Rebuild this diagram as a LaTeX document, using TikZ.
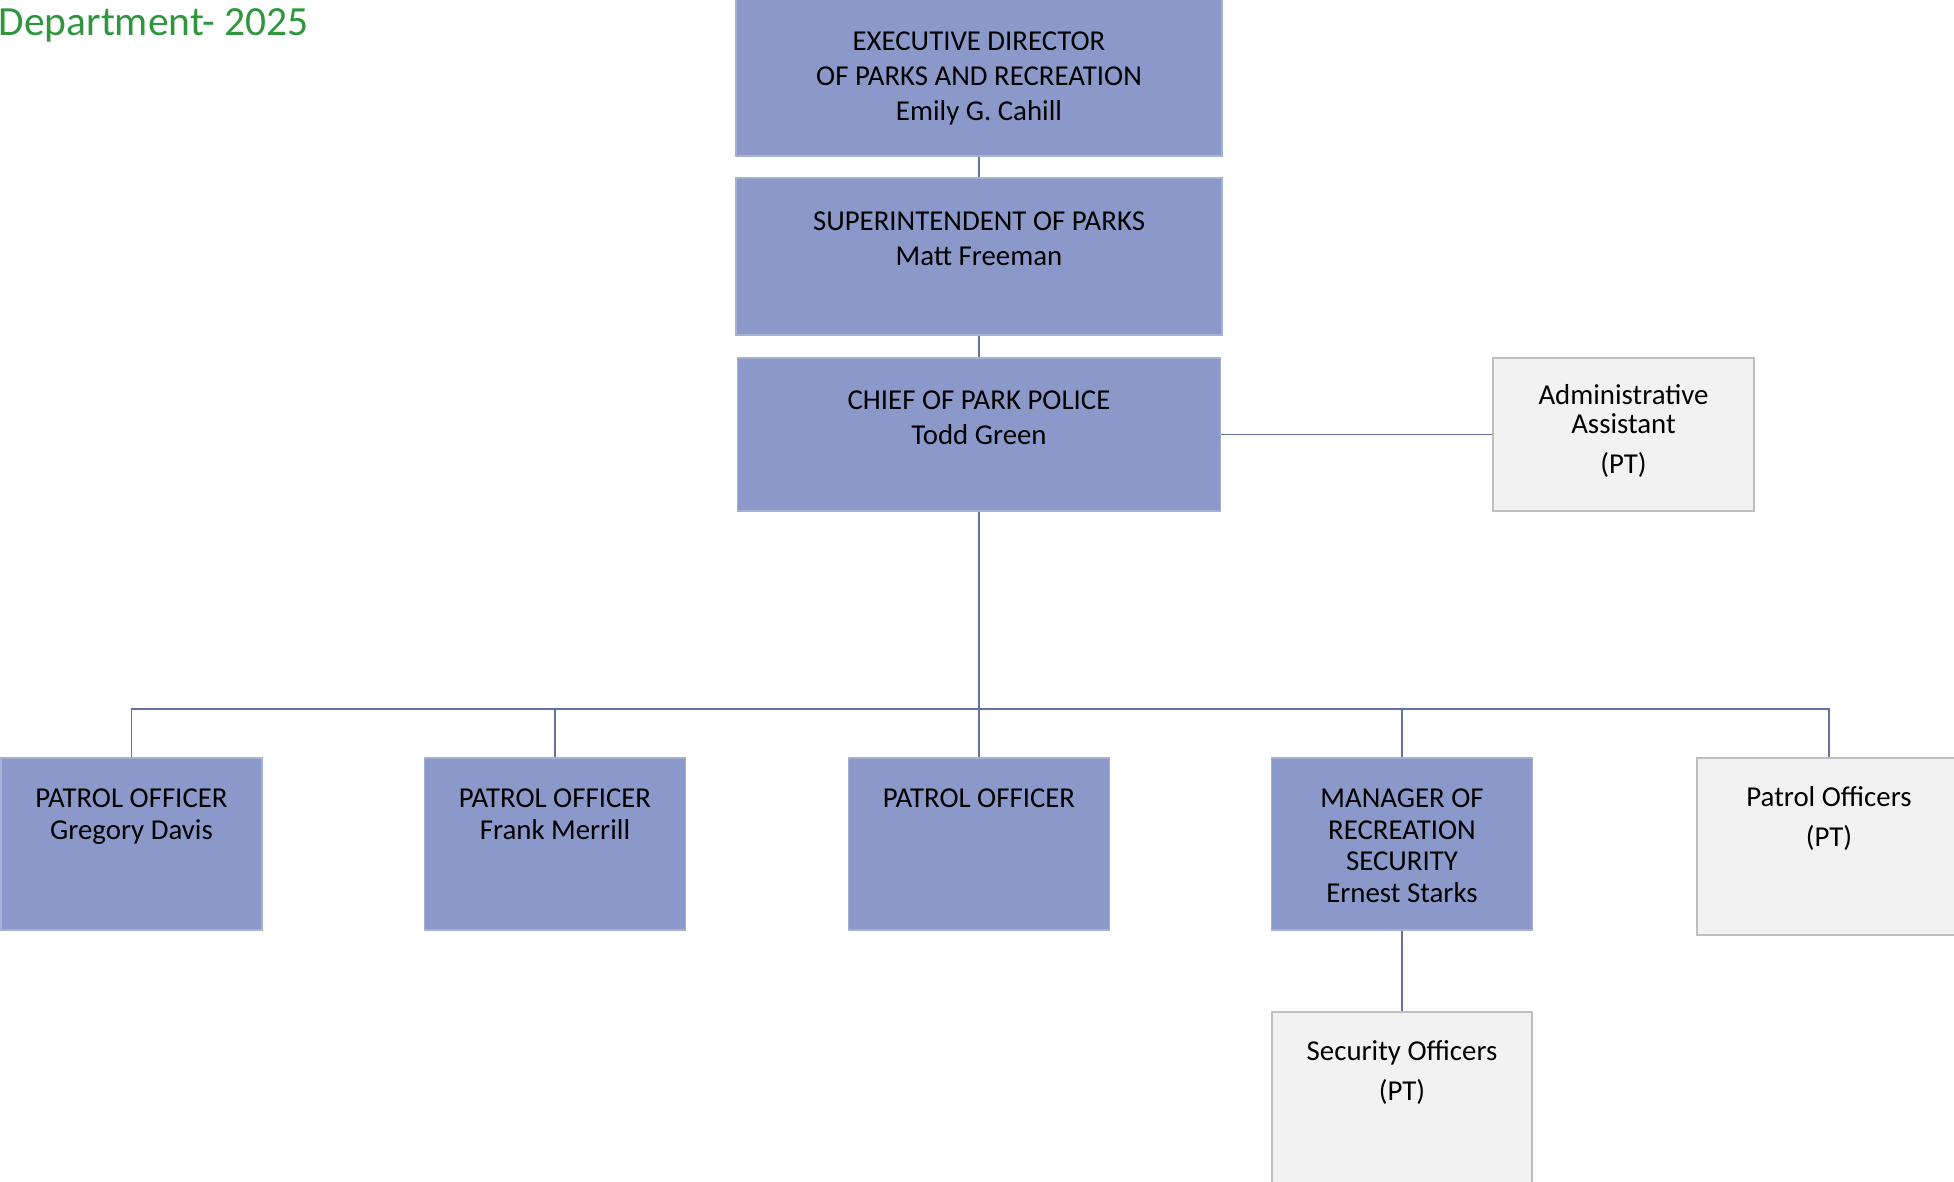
\documentclass[tikz,border=0pt]{standalone}
\usepackage{fontspec}
\setmainfont{Carlito}
\usepackage{xcolor}
\definecolor{boxBlue}{HTML}{8A99C9}
\definecolor{boxBlueEdge}{HTML}{A7B0D2}
\definecolor{boxGray}{HTML}{F2F2F2}
\definecolor{boxGrayEdge}{HTML}{BFBFBF}
\definecolor{linkLine}{HTML}{6571A3}
\definecolor{titleGreen}{HTML}{2F963E}

\begin{document}
\begin{tikzpicture}[x=0.01cm, y=-0.01cm,
    bluebox/.style={rectangle, draw=boxBlueEdge, fill=boxBlue, line width=0.4pt, inner sep=0pt},
    graybox/.style={rectangle, draw=boxGrayEdge, fill=boxGray, line width=0.4pt, inner sep=0pt},
    widebox/.style={minimum width=4.86cm, minimum height=1.55cm},
    smallbox/.style={minimum width=2.61cm, minimum height=1.72cm},
    toptxt/.style={anchor=north, align=center, inner sep=0pt, font=\fontsize{8.2}{10}\selectfont},
    lowtxt/.style={toptxt, font=\fontsize{8.2}{9}\selectfont},
    ptxt/.style={toptxt, font=\fontsize{8.2}{8.3}\selectfont},
    link/.style={draw=linkLine, line width=0.45pt}]
  \useasboundingbox (0,0) rectangle (1954,1181);

  % title, cut at the left edge
  \node[anchor=base west, inner sep=0pt, text=titleGreen, font=\fontsize{11.8}{14}\selectfont]
    (title) at (-2,35) {Department- 2025};

  % top of the chain
  \node[bluebox, widebox, minimum height=1.58cm] (exec) at (979,77) {};
  \node[bluebox, widebox, minimum height=1.57cm] (supt) at (979,256.5) {};
  \node[bluebox, widebox, minimum width=4.83cm, minimum height=1.53cm] (chief) at (979,434.5) {};
  \node[graybox, minimum width=2.61cm, minimum height=1.53cm] (admin) at (1623.5,434.5) {};

  % bottom row
  \node[bluebox, smallbox] (po1) at (131.5,844) {};
  \node[bluebox, smallbox] (po2) at (555,844) {};
  \node[bluebox, smallbox] (po3) at (979,844) {};
  \node[bluebox, smallbox] (mgr) at (1402,844) {};
  \node[graybox, minimum width=2.64cm, minimum height=1.77cm] (ptpo) at (1829,846.5) {};
  \node[graybox, minimum width=2.60cm, minimum height=2.00cm] (sec) at (1402,1112) {};

  % connectors
  \coordinate (bus) at (979,709);
  \draw[link] (exec) -- (supt);
  \draw[link] (supt) -- (chief);
  \draw[link] (chief) -- (admin);
  \draw[link] (chief) -- (po3);
  \draw[link] (po1.north) |- (bus) -| (ptpo.north);
  \draw[link] (po2.north) -- (po2.north |- bus);
  \draw[link] (mgr.north) -- (mgr.north |- bus);
  \draw[link] (mgr) -- (sec);

  % texts
  \node[toptxt] (exec-txt) at (979,31) {EXECUTIVE DIRECTOR\\OF PARKS AND RECREATION\\Emily G. Cahill};
  \node[toptxt] (supt-txt) at (979,211) {SUPERINTENDENT OF PARKS\\Matt Freeman};
  \node[toptxt] (chief-txt) at (979,390) {CHIEF OF PARK POLICE\\Todd Green};
  \node[ptxt] (admin-txt) at (1623.5,384) {Administrative\\Assistant\\[3pt](PT)};
  \node[lowtxt] (po1-txt) at (131.5,788) {PATROL OFFICER\\Gregory Davis};
  \node[lowtxt] (po2-txt) at (555,788) {PATROL OFFICER\\Frank Merrill};
  \node[lowtxt] (po3-txt) at (979,788) {PATROL OFFICER};
  \node[lowtxt] (mgr-txt) at (1402,788) {MANAGER OF\\RECREATION\\SECURITY\\Ernest Starks};
  \node[ptxt] (ptpo-txt) at (1829,786) {Patrol Officers\\[3pt](PT)};
  \node[ptxt] (sec-txt) at (1402,1040) {Security Officers\\[3pt](PT)};
\end{tikzpicture}
\end{document}
